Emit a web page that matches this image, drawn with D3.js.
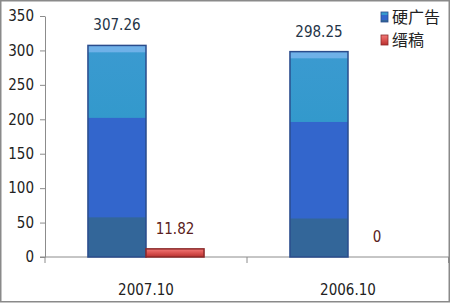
<!DOCTYPE html>
<html>
<head>
<meta charset="utf-8">
<script src="https://cdn.jsdelivr.net/npm/d3@7"></script>
<style>
  body { margin: 0; background: #fff; }
  svg { display: block; }
  text { font-family: "Liberation Sans Narrow", "DejaVu Sans Condensed", sans-serif; }
</style>
</head>
<body>
<div id="chart"></div>
<script>
/* bar chart: hard ads vs. paid copy, Oct 2007 vs Oct 2006 */

const categories = ["2007.10", "2006.10"];
const series = ["硬广告", "缙稿"];
const hardAds = [307.26, 298.25];
const paidCopy = [11.82, 0];
const yTicks = [0, 50, 100, 150, 200, 250, 300, 350];

const width = 450,
      height = 303,
      margin = ({top: 16, right: 1, bottom: 46, left: 45});

let data = [];
categories.forEach((c, i) => {
    data.push({cat: c, key: series[0], value: hardAds[i]});
    data.push({cat: c, key: series[1], value: paidCopy[i]});
});

let svg = d3.select("#chart")
    .append("svg")
    .attr("width", width)
    .attr("height", height);

// gradients that mimic the Excel 2007 bar style
let defs = svg.append("defs");
let blue = defs.append("linearGradient")
    .attr("id", "blueGrad")
    .attr("x1", 0).attr("y1", 0).attr("x2", 0).attr("y2", 1);
[
    [0, "#6fb1e8"], [0.03, "#6fb1e8"], [0.035, "#3a9ad0"], [0.34, "#3399cc"],
    [0.345, "#3366cc"], [0.81, "#3366cc"], [0.815, "#336699"], [1, "#336699"]
].forEach(s => blue.append("stop").attr("offset", s[0]).attr("stop-color", s[1]));

let red = defs.append("linearGradient")
    .attr("id", "redGrad")
    .attr("x1", 0).attr("y1", 0).attr("x2", 0).attr("y2", 1);
[
    [0, "#f07a78"], [0.4, "#e05a58"], [1, "#b8302e"]
].forEach(s => red.append("stop").attr("offset", s[0]).attr("stop-color", s[1]));

const fills = {"硬广告": "url(#blueGrad)", "缙稿": "url(#redGrad)"};
const strokes = {"硬广告": "#2a4c8c", "缙稿": "#8c2a2a"};
const labelColor = {"硬广告": "#243447", "缙稿": "#5a2020"};

let x = d3.scaleBand()
    .domain(categories)
    .range([margin.left, width - margin.right]);

let xs = d3.scaleBand()
    .domain(series)
    .range([0, x.bandwidth()])
    .paddingOuter(0.74);

let y = d3.scaleLinear()
    .domain([0, 350])
    .range([height - margin.bottom, margin.top]);

// outer frame
svg.append("rect")
    .attr("x", 0.75).attr("y", 0.75)
    .attr("width", width - 1.5).attr("height", height - 2)
    .attr("fill", "none")
    .attr("stroke", "#8a8a8a")
    .attr("stroke-width", 1.5);

// y axis
let yAxis = svg.append("g")
    .attr("transform", `translate(${margin.left},0)`)
    .call(d3.axisLeft(y).tickValues(yTicks).tickSize(5).tickSizeOuter(0).tickPadding(6));
yAxis.select(".domain").attr("stroke", "#8c8c8c");
yAxis.selectAll(".tick line").attr("stroke", "#8c8c8c");
yAxis.selectAll(".tick text")
    .attr("fill", "#222")
    .style("font-size", "15px");

// x axis
let xAxis = svg.append("g")
    .attr("transform", `translate(0,${y(0)})`)
    .call(d3.axisBottom(x).tickSize(0).tickPadding(27).tickSizeOuter(0));
xAxis.select(".domain").remove();
xAxis.append("line")
    .attr("x1", margin.left - 5).attr("x2", width)
    .attr("stroke", "#8c8c8c");
xAxis.selectAll(".boundary")
    .data(categories.concat(["end"]))
    .join("line")
    .attr("class", "boundary")
    .attr("x1", (d, i) => i < categories.length ? x(d) : x.range()[1] - 0.5)
    .attr("x2", (d, i) => i < categories.length ? x(d) : x.range()[1] - 0.5)
    .attr("y1", 0).attr("y2", 6)
    .attr("stroke", "#8c8c8c");
xAxis.selectAll(".tick text")
    .attr("fill", "#222")
    .style("font-size", "15px");

// bars
let bar = svg.selectAll(".bar")
    .data(data.filter(d => d.value > 0))
    .join("g")
    .attr("class", "bar");

bar.append("rect")
    .attr("x", d => x(d.cat) + xs(d.key))
    .attr("width", xs.bandwidth())
    .attr("y", d => y(d.value))
    .attr("height", d => y(0) - y(d.value))
    .attr("fill", d => fills[d.key])
    .attr("stroke", d => strokes[d.key])
    .attr("stroke-width", 1.5);

// value labels
svg.selectAll(".val")
    .data(data)
    .join("text")
    .attr("class", "val")
    .text(d => d.value)
    .attr("x", d => x(d.cat) + xs(d.key) + xs.bandwidth() / 2)
    .attr("y", d => y(d.value) - 15)
    .attr("text-anchor", "middle")
    .attr("fill", d => labelColor[d.key])
    .style("font-size", "15px");

// legend
let legend = svg.selectAll(".legend")
    .data(series)
    .join("g")
    .attr("class", "legend")
    .attr("transform", (d, i) => `translate(381,${12 + i * 23})`);

legend.append("rect")
    .attr("width", 7).attr("height", 10)
    .attr("fill", d => fills[d])
    .attr("stroke", d => strokes[d])
    .attr("stroke-width", 0.8);

legend.append("text")
    .text(d => d)
    .attr("x", 11)
    .attr("y", 11)
    .attr("fill", "#222")
    .style("font-family", "'Noto Sans CJK SC', sans-serif")
    .style("font-size", "16px");
</script>
</body>
</html>
